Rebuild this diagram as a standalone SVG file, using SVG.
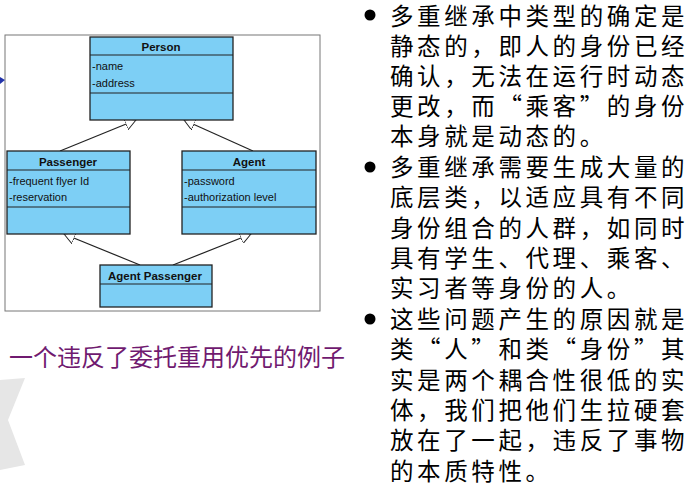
<svg xmlns="http://www.w3.org/2000/svg" width="694" height="486" viewBox="0 0 694 486">
<style>
.box{fill:#7dcff5;stroke:#222;stroke-width:1.3}
.ln{stroke:#222;stroke-width:1.2}
.h{font:bold 11.5px "Liberation Sans",Arial,sans-serif;text-anchor:middle;fill:#111}
.a{font:11px "Liberation Sans",Arial,sans-serif;fill:#111}
.c{stroke:#222;stroke-width:1.2;fill:none;marker-end:url(#tri)}
.t{font:23.5px "Noto Sans CJK SC",sans-serif;fill:#000;letter-spacing:3.6px}
</style>
<defs>
<marker id="tri" viewBox="0 0 12 12" refX="11" refY="6" markerWidth="12" markerHeight="12" markerUnits="userSpaceOnUse" orient="auto">
<path d="M0,0 L11,6 L0,12 Z" fill="#fff" stroke="#222" stroke-width="1"/>
</marker>
</defs>
<rect width="694" height="486" fill="#fff"/>
<g fill="#e6e6e6">
<path d="M0,380 L25,378 L8,420 L25,465 L0,470 Z"/>
</g>
<rect x="5" y="35" width="315" height="276" fill="#fff" stroke="#777" stroke-width="1"/>
<path d="M0,77 L5,80 L0,84 Z" fill="#2233aa"/>
<g id="connectors">
<line class="c" x1="60" y1="151" x2="136" y2="120"/>
<line class="c" x1="253" y1="151" x2="184" y2="120"/>
<line class="c" x1="140" y1="265" x2="64" y2="234"/>
<line class="c" x1="173" y1="265" x2="251" y2="234"/>
</g>
<g id="person">
<rect class="box" x="90" y="37" width="143" height="83"/>
<line class="ln" x1="90" y1="55" x2="233" y2="55"/><line class="ln" x1="90" y1="93" x2="233" y2="93"/>
<text class="h" x="161" y="51">Person</text>
<text class="a" x="92" y="70">-name</text><text class="a" x="92" y="87">-address</text>
</g>
<g id="passenger">
<rect class="box" x="7" y="151" width="123" height="83"/>
<line class="ln" x1="7" y1="170" x2="130" y2="170"/><line class="ln" x1="7" y1="207" x2="130" y2="207"/>
<text class="h" x="68" y="166">Passenger</text>
<text class="a" x="9" y="185">-frequent flyer Id</text><text class="a" x="9" y="201">-reservation</text>
</g>
<g id="agent">
<rect class="box" x="182" y="151" width="134" height="83"/>
<line class="ln" x1="182" y1="170" x2="316" y2="170"/><line class="ln" x1="182" y1="207" x2="316" y2="207"/>
<text class="h" x="249" y="166">Agent</text>
<text class="a" x="184" y="185">-password</text><text class="a" x="184" y="201">-authorization level</text>
</g>
<g id="agentpassenger">
<rect class="box" x="100" y="265" width="112" height="42"/>
<line class="ln" x1="100" y1="284" x2="212" y2="284"/>
<text class="h" x="155" y="280">Agent Passenger</text>
</g>
<text x="345" y="366" text-anchor="end" style="font:24px 'Noto Sans CJK SC',sans-serif;fill:#701a70">一个违反了委托重用优先的例子</text>
<g id="bullets">
<circle cx="370" cy="15" r="5.5"/><circle cx="370" cy="167" r="5.5"/><circle cx="370" cy="319" r="5.5"/>
<text class="t" x="390" y="25">多重继承中类型的确定是</text>
<text class="t" x="390" y="55">静态的，即人的身份已经</text>
<text class="t" x="390" y="85">确认，无法在运行时动态</text>
<text class="t" x="390" y="115">更改，而“乘客”的身份</text>
<text class="t" x="390" y="145">本身就是动态的。</text>
<text class="t" x="390" y="176">多重继承需要生成大量的</text>
<text class="t" x="390" y="206">底层类，以适应具有不同</text>
<text class="t" x="390" y="237">身份组合的人群，如同时</text>
<text class="t" x="390" y="267">具有学生、代理、乘客、</text>
<text class="t" x="390" y="297">实习者等身份的人。</text>
<text class="t" x="390" y="328">这些问题产生的原因就是</text>
<text class="t" x="390" y="358">类“人”和类“身份”其</text>
<text class="t" x="390" y="389">实是两个耦合性很低的实</text>
<text class="t" x="390" y="419">体，我们把他们生拉硬套</text>
<text class="t" x="390" y="449">放在了一起，违反了事物</text>
<text class="t" x="390" y="480">的本质特性。</text>
</g>
</svg>
